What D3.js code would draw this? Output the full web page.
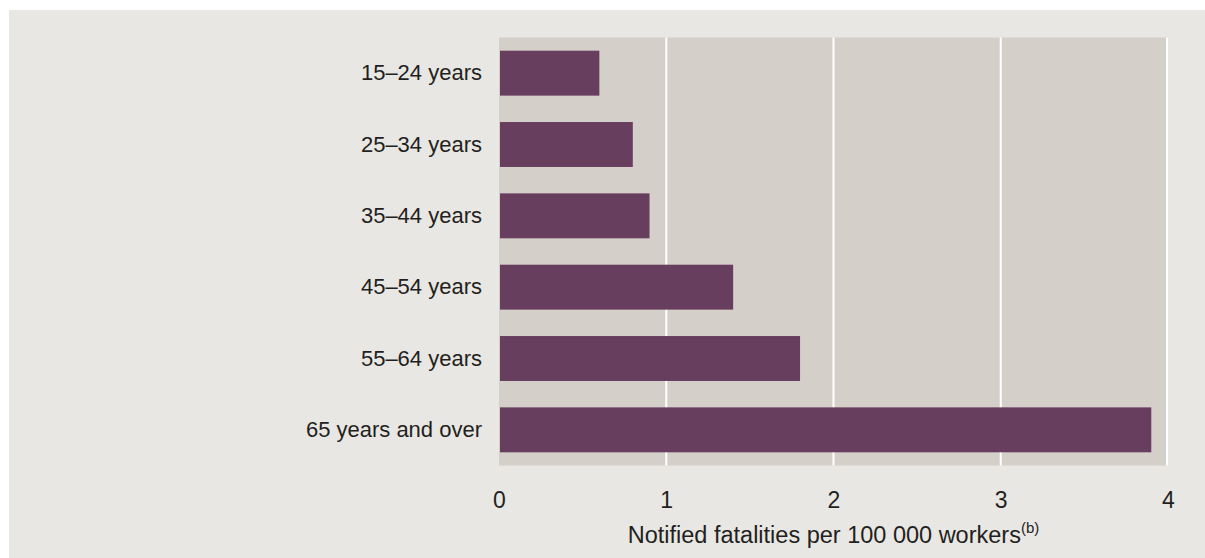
<!DOCTYPE html>
<html>
<head>
<meta charset="utf-8">
<script src="https://cdn.jsdelivr.net/npm/d3@7/dist/d3.min.js"></script>
<style>
  html, body { margin: 0; padding: 0; background: #ffffff; }
  svg { display: block; }
  text { font-family: "Liberation Sans", Arial, Helvetica, sans-serif; fill: #231f20; }
</style>
</head>
<body>
<svg id="chart" width="1205" height="558"></svg>
<script>
const categories = ["15–24 years", "25–34 years", "35–44 years", "45–54 years", "55–64 years", "65 years and over"];
const values = [0.6, 0.8, 0.9, 1.4, 1.8, 3.9];
const xTicks = [0, 1, 2, 3, 4];
const axisTitle = "Notified fatalities per 100 000 workers";
const axisTitleSup = "(b)";

const svg = d3.select("#chart");
const W = 1205, H = 558;

// outer panel
svg.append("rect").attr("x", 9).attr("y", 10).attr("width", W - 9).attr("height", H - 10).attr("fill", "#e9e7e3");

const plot = { left: 499, right: 1168, top: 37.5, bottom: 465.5 };

const x = d3.scaleLinear().domain([0, 4]).range([plot.left, plot.right]);
const y = d3.scaleBand().domain(categories).range([plot.top, plot.bottom]).paddingInner(0.37).paddingOuter(0.185);

// plot background
svg.append("rect")
  .attr("x", plot.left).attr("y", plot.top)
  .attr("width", plot.right - plot.left).attr("height", plot.bottom - plot.top)
  .attr("fill", "#d4cfc9");

// gridlines
svg.append("g").selectAll("line").data(xTicks.filter(d => d > 0)).join("line")
  .attr("x1", d => d === 4 ? x(d) - 1 : x(d)).attr("x2", d => d === 4 ? x(d) - 1 : x(d))
  .attr("y1", plot.top).attr("y2", plot.bottom)
  .attr("stroke", "#ffffff").attr("stroke-width", 2);

// bars
svg.append("g").selectAll("rect").data(categories).join("rect")
  .attr("x", x(0) + 1)
  .attr("y", d => y(d))
  .attr("width", (d, i) => x(values[i]) - x(0) - 1)
  .attr("height", y.bandwidth())
  .attr("fill", "#683e5e");

// y labels
const yAxis = d3.axisLeft(y).tickSize(0).tickPadding(17);
const gy = svg.append("g").attr("transform", `translate(${plot.left},0)`).call(yAxis);
gy.select(".domain").remove();
gy.selectAll("text").style("font-size", "22px").attr("fill", "#231f20")
  .style("font-family", "'Liberation Sans', Arial, sans-serif");

// x tick labels
const xAxis = d3.axisBottom(x).tickValues(xTicks).tickFormat(d3.format("d")).tickSize(0).tickPadding(0);
const gx = svg.append("g").attr("transform", `translate(0,${plot.bottom})`).call(xAxis);
gx.select(".domain").remove();
gx.selectAll("text").style("font-size", "23px").attr("fill", "#231f20").attr("dy", null).attr("y", 42)
  .style("font-family", "'Liberation Sans', Arial, sans-serif");

// axis title
const t = svg.append("text")
  .attr("x", (plot.left + plot.right) / 2)
  .attr("y", 543)
  .attr("text-anchor", "middle")
  .style("font-size", "23.5px");
t.append("tspan").text(axisTitle);
t.append("tspan").text(axisTitleSup).style("font-size", "15px").attr("dy", -10);
</script>
</body>
</html>
